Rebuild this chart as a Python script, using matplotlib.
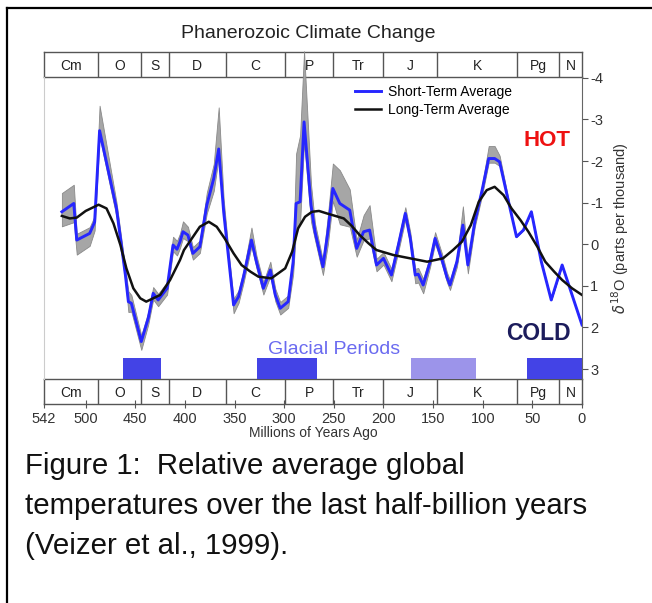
import numpy as np
import matplotlib.pyplot as plt
from matplotlib.lines import Line2D

# 短期平均（蓝线），单位 Ma / δ18O
ages_short = [524, 512, 509, 496, 491, 486, 469, 460, 457, 454,
              444, 437, 432, 427, 418, 412, 408, 405, 402, 397,
              392, 385, 378, 371, 366, 361, 356, 351, 346, 341,
              333, 328, 321, 314, 309, 304, 296, 291, 288, 284,
              280, 273, 269, 261, 256, 251, 244, 234, 227, 220,
              214, 207, 200, 192, 185, 178, 173, 168, 165, 160,
              153, 148, 141, 136, 133, 126, 120, 115, 108, 101,
              94, 88, 83, 74, 66, 59, 51, 41, 31, 20,
              10, 0]
d18o_short = [-0.78, -0.98, -0.10, -0.26, -0.53, -2.73, -0.86, 0.74, 1.38, 1.42,
              2.34, 1.78, 1.18, 1.34, 1.06, 0.02, 0.12, -0.06, -0.30, -0.22,
              0.22, 0.06, -0.94, -1.58, -2.29, -0.78, 0.34, 1.46, 1.26, 0.78,
              -0.10, 0.42, 1.06, 0.62, 1.22, 1.54, 1.38, 0.42, -0.98, -1.02,
              -2.94, -0.94, -0.30, 0.54, -0.30, -1.34, -0.98, -0.82, 0.10, -0.30,
              -0.34, 0.50, 0.34, 0.74, 0.02, -0.74, -0.14, 0.74, 0.72, 0.98,
              0.42, -0.14, 0.38, 0.80, 0.98, 0.42, -0.46, 0.50, -0.54, -1.26,
              -2.06, -2.06, -1.98, -1.02, -0.18, -0.34, -0.78, 0.42, 1.34, 0.50,
              1.22, 1.94]
# 灰色误差带（偏暖 / 偏冷方向的宽度）
band_warm = [0.45, 0.45, 0.15, 0.15, 0.15, 0.6, 0.15, 0.15, 0.25, 0.2,
             0.15, 0.15, 0.15, 0.15, 0.15, 0.2, 0.2, 0.2, 0.25, 0.2,
             0.15, 0.15, 0.3, 0.35, 1.0, 0.3, 0.15, 0.15, 0.15, 0.15,
             0.3, 0.15, 0.15, 0.2, 0.15, 0.15, 0.15, 0.2, 1.2, 1.6,
             1.7, 0.5, 0.2, 0.15, 0.4, 0.6, 0.8, 0.5, 0.2, 0.4,
             0.6, 0.15, 0.15, 0.15, 0.15, 0.15, 0.15, 0.15, 0.15, 0.15,
             0.15, 0.15, 0.15, 0.12, 0.12, 0.12, 0.45, 0.12, 0.12, 0.12,
             0.3, 0.3, 0.15, 0.05, 0, 0, 0, 0, 0, 0,
             0, 0]
band_cold = [0.35, 0.45, 0.35, 0.3, 0.2, 0.15, 0.2, 0.15, 0.25, 0.2,
             0.2, 0.15, 0.15, 0.15, 0.15, 0.15, 0.15, 0.15, 0.15, 0.15,
             0.15, 0.15, 0.2, 0.3, 0.2, 0.15, 0.15, 0.2, 0.15, 0.15,
             0.15, 0.15, 0.15, 0.15, 0.15, 0.15, 0.15, 0.3, 0.6, 0.5,
             0.5, 0.4, 0.2, 0.2, 0.3, 0.3, 0.5, 0.4, 0.2, 0.2,
             0.2, 0.15, 0.15, 0.15, 0.15, 0.15, 0.15, 0.2, 0.2, 0.2,
             0.12, 0.12, 0.12, 0.12, 0.12, 0.12, 0.12, 0.2, 0.12, 0.12,
             0.1, 0.1, 0.1, 0.05, 0, 0, 0, 0, 0, 0,
             0, 0]

# 长期平均（黑线）
ages_long = [524, 516, 509, 500, 487, 479, 472, 465, 459, 452,
             445, 439, 425, 415, 405, 401, 393, 385, 376, 368,
             360, 351, 343, 334, 326, 313, 299, 292, 286, 279,
             272, 265, 257, 240, 232, 224, 215, 207, 190, 173,
             156, 140, 130, 121, 112, 104, 96, 88, 79, 71,
             62, 54, 45, 37, 28, 20, 10, 0]
d18o_long = [-0.68, -0.62, -0.64, -0.80, -0.95, -0.86, -0.50, 0.02, 0.58, 1.06,
             1.30, 1.38, 1.22, 0.86, 0.38, 0.14, -0.14, -0.42, -0.54, -0.42,
             -0.14, 0.22, 0.50, 0.66, 0.78, 0.82, 0.58, 0.18, -0.38, -0.66,
             -0.78, -0.80, -0.74, -0.62, -0.44, -0.22, -0.02, 0.14, 0.26, 0.34,
             0.42, 0.34, 0.14, -0.06, -0.46, -1.02, -1.30, -1.38, -1.18, -0.86,
             -0.58, -0.30, 0.06, 0.42, 0.66, 0.86, 1.06, 1.22]

# 地质年代
period_names = ['Cm', 'O', 'S', 'D', 'C', 'P', 'Tr', 'J', 'K', 'Pg', 'N']
period_bounds = [542, 488, 444, 416, 359, 299, 251, 200, 146, 65.5, 23, 0]

# 冰期
glacial_start = [462, 327, 172, 55]
glacial_end = [424, 267, 107, 0]
glacial_colors = ['#4343e6', '#4343e6', '#9c94ea', '#4343e6']

x_ticks = [542, 500, 450, 400, 350, 300, 250, 200, 150, 100, 50, 0]
y_ticks = [-4, -3, -2, -1, 0, 1, 2, 3]

plt.rcParams['font.family'] = ['Liberation Sans', 'DejaVu Sans']

W, H = 652, 603
fig = plt.figure(figsize=(W / 100, H / 100), dpi=100)


def px_axes(x0, y0, x1, y1, **kw):
    return fig.add_axes([x0 / W, 1 - y1 / H, (x1 - x0) / W, (y1 - y0) / H], **kw)


def draw_period_bar(ax, with_ticks):
    ax.set_xlim(542, 0)
    ax.set_ylim(0, 1)
    ax.set_facecolor('none')
    for b in period_bounds[1:-1]:
        ax.axvline(b, color='#555555', lw=1.0)
    for i, name in enumerate(period_names):
        mid = (period_bounds[i] + period_bounds[i + 1]) / 2
        ax.text(mid, 0.45, name, ha='center', va='center', fontsize=10, color='#222222')
    for s in ax.spines.values():
        s.set_color('#555555')
        s.set_linewidth(1.0)
    ax.set_yticks([])
    if with_ticks:
        ax.set_xticks(x_ticks)
        ax.set_xticklabels([str(t) for t in x_ticks])
        ax.tick_params(axis='x', direction='inout', length=6, width=0.8,
                       color='#555555', labelsize=10.5, labelcolor='#333333', pad=3)
        ax.set_xlabel('Millions of Years Ago', fontsize=10, color='#333333', labelpad=0)
    else:
        ax.set_xticks([])


top_bar = px_axes(44, 52, 582, 77)
draw_period_bar(top_bar, False)
bot_bar = px_axes(44, 379, 582, 404)
draw_period_bar(bot_bar, True)

ax = px_axes(44, 77, 582, 379)
ax.set_zorder(top_bar.get_zorder() + 1)
ax.patch.set_alpha(0)

ages_s = np.array(ages_short)
vals_s = np.array(d18o_short)
band = ax.fill_between(ages_s, vals_s - np.array(band_warm), vals_s + np.array(band_cold),
                       color='#a6a6a6', edgecolor='#8a8a8a', lw=0.6)
band.set_clip_on(False)
ax.plot(ages_short, d18o_short, color='#2626ff', lw=2.1, label='Short-Term Average')
ax.plot(ages_long, d18o_long, color='#111111', lw=1.8, label='Long-Term Average')

for s, e, c in zip(glacial_start, glacial_end, glacial_colors):
    ax.bar((s + e) / 2, 3.24 - 2.73, width=s - e, bottom=2.73, color=c, edgecolor='none')

ax.set_xlim(542, 0)
ax.set_ylim(3.24, -4.02)
ax.yaxis.tick_right()
ax.yaxis.set_label_position('right')
ax.set_yticks(y_ticks)
ax.set_yticklabels([str(t) for t in y_ticks])
ax.tick_params(axis='y', direction='out', length=4, width=0.8, color='#555555',
               labelsize=10.5, labelcolor='#333333', pad=2)
ax.set_xticks([])
ax.spines['top'].set_visible(False)
ax.spines['bottom'].set_visible(False)
ax.spines['left'].set_color('#cccccc')
ax.spines['right'].set_color('#666666')
ax.set_ylabel(r'$\delta^{18}$O (parts per thousand)', fontsize=10.5, color='#333333',
              rotation=90, labelpad=4)

ax.legend(loc='upper left', bbox_to_anchor=(0.56, 1.005), frameon=False, fontsize=10,
          handlelength=1.9, handletextpad=0.5, labelspacing=0.25, borderaxespad=0.3)

fig.text(547 / W, 1 - 141 / H, 'HOT', color='#ee1111', fontsize=16, fontweight='bold',
         ha='center', va='center')
fig.text(538 / W, 1 - 333 / H, 'COLD', color='#1c1c5c', fontsize=16.5, fontweight='bold',
         ha='center', va='center')
fig.text(334 / W, 1 - 350 / H, 'Glacial Periods', color='#6a6af0', fontsize=14,
         ha='center', va='center')
fig.text(308 / W, 1 - 33 / H, 'Phanerozoic Climate Change', color='#222222', fontsize=14,
         ha='center', va='center')

caption = ['Figure 1:  Relative average global',
           'temperatures over the last half-billion years',
           '(Veizer et al., 1999).']
for i, line in enumerate(caption):
    fig.text(25 / W, 1 - (474 + 40 * i) / H, line, fontsize=21.2, color='#111111',
             ha='left', va='baseline')

# 外框
fig.add_artist(Line2D([7 / W, 7 / W], [0, 1 - 8 / H], color='black', lw=1.6))
fig.add_artist(Line2D([7 / W, 1], [1 - 8 / H, 1 - 8 / H], color='black', lw=1.6))

fig.savefig('out.png', dpi=100)
